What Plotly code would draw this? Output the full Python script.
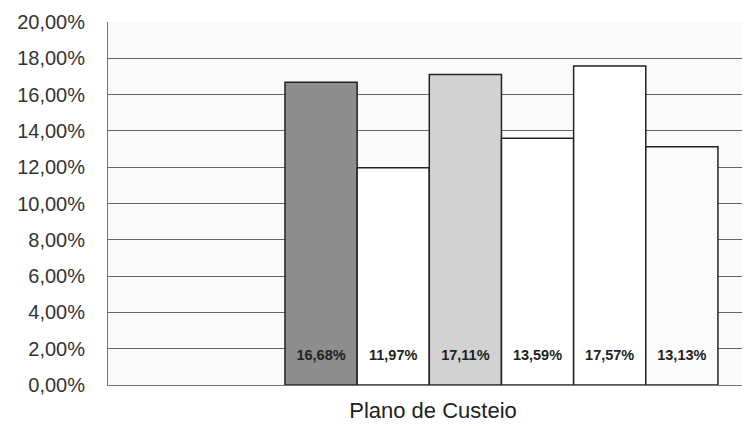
import plotly.graph_objects as go

category = ["Plano de Custeio"]
series_names = ["S1", "S2", "S3", "S4", "S5", "S6"]
values = [0.1668, 0.1197, 0.1711, 0.1359, 0.1757, 0.1313]
value_labels = ["16,68%", "11,97%", "17,11%", "13,59%", "17,57%", "13,13%"]
bar_colors = ["#8e8e8e", "#ffffff", "#d2d2d2", "#ffffff", "#ffffff", "#fbfbfb"]
tick_vals = [0, 0.02, 0.04, 0.06, 0.08, 0.10, 0.12, 0.14, 0.16, 0.18, 0.20]
tick_text = ["0,00%", "2,00%", "4,00%", "6,00%", "8,00%", "10,00%",
             "12,00%", "14,00%", "16,00%", "18,00%", "20,00%"]

fig = go.Figure()
for name, v, lab, col in zip(series_names, values, value_labels, bar_colors):
    fig.add_trace(go.Bar(
        x=category, y=[v], name=name,
        marker=dict(color=col, line=dict(color="#222222", width=1.5)),
        text=[lab], texttemplate="<b>%{text}</b><br> ",
        textposition="inside", insidetextanchor="start",
        textangle=0,
        textfont=dict(family="Liberation Sans, Arial, sans-serif", size=14.5, color="#222222"),
        showlegend=False,
    ))

fig.update_layout(
    width=750, height=426,
    margin=dict(l=100, r=0, t=14, b=49),
    barmode="group", bargap=0.2, bargroupgap=0,
    paper_bgcolor="#ffffff", plot_bgcolor="#fafafa",
    font=dict(family="Liberation Sans, Arial, sans-serif", color="#333333"),
    uniformtext=dict(mode=False),
    xaxis=dict(
        type="category", range=[-0.727, 0.474], showticklabels=False,
        showgrid=False, showline=True, linecolor="#777777", linewidth=1,
        ticks="", zeroline=False, automargin=False,
        title=dict(text="Plano de Custeio", font=dict(size=22, color="#222222"), standoff=17),
    ),
    yaxis=dict(
        range=[0, 0.2], tickvals=tick_vals, ticktext=tick_text,
        tickfont=dict(size=20, color="#333333"),
        showgrid=True, gridcolor="#666666", gridwidth=1,
        showline=True, linecolor="#777777", linewidth=1,
        ticks="", ticklabelstandoff=18, zeroline=False, automargin=False,
    ),
)

fig.write_html("out.html")
